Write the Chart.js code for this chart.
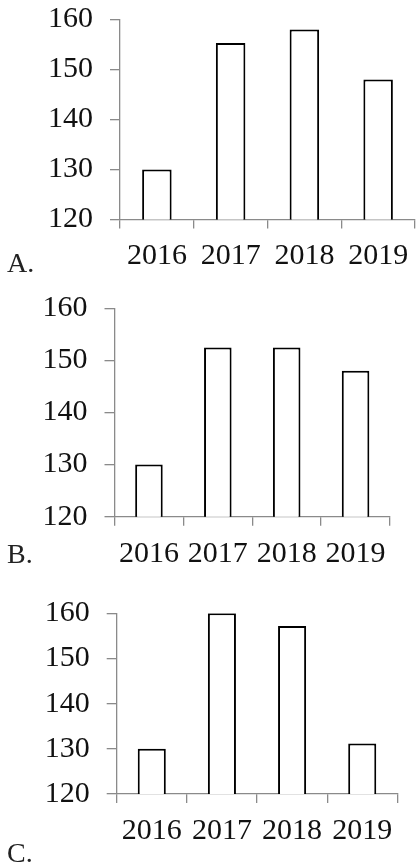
<!DOCTYPE html>
<html>
<head>
<meta charset="utf-8">
<script src="https://cdn.jsdelivr.net/npm/chart.js@4/dist/chart.umd.min.js"></script>
<style>
  html, body { margin: 0; padding: 0; background: #fff; }
  body { width: 416px; height: 863px; position: relative; overflow: hidden; }
  canvas { position: absolute; left: 0; }
  .tag { position: absolute; left: 7px; font-family: "Liberation Serif", serif; font-size: 28px; line-height: 28px; color: #222; }
</style>
</head>
<body>
<canvas id="chartA" width="416" height="285" style="top:0px"></canvas>
<canvas id="chartB" width="416" height="285" style="top:285px"></canvas>
<canvas id="chartC" width="416" height="293" style="top:570px"></canvas>
<div class="tag" style="top:249px">A.</div>
<div class="tag" style="top:540px">B.</div>
<div class="tag" style="top:839px">C.</div>
<script>
const years = ['2016', '2017', '2018', '2019'];
const valuesA = [130, 155.3, 158, 148];
const valuesB = [130, 152.5, 152.5, 148];
const valuesC = [130, 160, 157.2, 131.2];
const yMin = 120;
const yMax = 160;
const yStep = 10;

// draws one small panel; box = where the plot area sits inside its canvas
function drawPanel(id, values, box) {
  const canvas = document.getElementById(id);
  const xHeight = 50;
  new Chart(canvas, {
    type: 'bar',
    data: {
      labels: years,
      datasets: [{
        data: values,
        backgroundColor: '#ffffff',
        borderColor: '#000000',
        borderWidth: 2,
        barPercentage: 0.4,
        categoryPercentage: 1
      }]
    },
    options: {
      responsive: false,
      animation: false,
      layout: {
        padding: {
          left: 0,
          top: box.top,
          right: 416 - box.right,
          bottom: canvas.height - box.bottom - xHeight
        }
      },
      plugins: { legend: { display: false }, tooltip: { enabled: false } },
      scales: {
        x: {
          afterFit: s => { s.height = xHeight; s.paddingLeft = 0; s.paddingRight = 0; },
          border: { color: '#8a8a8a', width: 1.3 },
          grid: { drawOnChartArea: false, drawTicks: true, tickLength: 9, color: '#8a8a8a', lineWidth: 1.3 },
          ticks: { color: '#111', padding: 10, font: { family: 'Liberation Serif', size: 30 } }
        },
        y: {
          min: yMin,
          max: yMax,
          // keep the plot area where the layout padding puts it
          afterFit: s => { s.width = box.left; s.paddingTop = 0; s.paddingBottom = 0; },
          border: { color: '#8a8a8a', width: 1.3 },
          grid: { drawOnChartArea: false, drawTicks: true, tickLength: 10, color: '#8a8a8a', lineWidth: 1.3 },
          ticks: { stepSize: yStep, color: '#111', padding: 17, font: { family: 'Liberation Serif', size: 30 } }
        }
      }
    }
  });
}

drawPanel('chartA', valuesA, { left: 120, right: 415, top: 19.5, bottom: 219.5 });
drawPanel('chartB', valuesB, { left: 114.5, right: 390, top: 23.3, bottom: 231.7 });
drawPanel('chartC', valuesC, { left: 116.7, right: 397.3, top: 43.3, bottom: 224 });
</script>
</body>
</html>
